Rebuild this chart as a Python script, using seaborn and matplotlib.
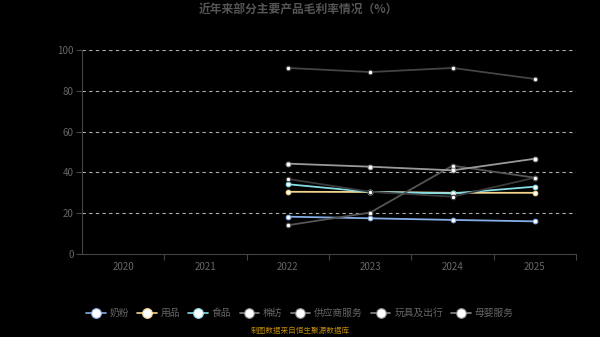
import matplotlib
matplotlib.use("Agg")
import matplotlib.pyplot as plt
import seaborn as sns
import pandas as pd
from matplotlib.lines import Line2D

years_axis = [2020, 2021, 2022, 2023, 2024, 2025]
years = [2022, 2023, 2024, 2025]
series_names = ["奶粉", "用品", "食品", "棉纺", "供应商服务", "玩具及出行", "母婴服务"]
naifen = [18.3, 17.5, 16.7, 16.0]
yongpin = [30.5, 30.4, 30.0, 30.0]
shipin = [34.2, 30.4, 29.7, 33.0]
mianfang = [91.2, 89.2, 91.2, 85.8]
gongying = [36.8, 30.5, 28.1, 37.4]
wanju = [14.1, 20.3, 43.3, 37.4]
muying = [44.3, 42.8, 41.0, 46.7]
values = [naifen, yongpin, shipin, mianfang, gongying, wanju, muying]
colors = ["#86aee6", "#f3d48c", "#86dde6", "#444444", "#3a3a3a", "#555555", "#9a9a9a"]
legend_line_colors = ["#86aee6", "#f3d48c", "#86dde6", "#888888", "#888888", "#888888", "#888888"]

sns.set_theme(style="dark")
plt.rcParams['font.family'] = ['Noto Sans CJK SC', 'DejaVu Sans']

fig = plt.figure(figsize=(6, 3.37), dpi=100, facecolor="black")
ax = fig.add_axes([0.1367, 0.2463, 0.8233, 0.6053])
ax.set_facecolor("black")

for name, vals, c in zip(series_names, values, colors):
    df = pd.DataFrame({"year": years, "value": vals})
    sns.lineplot(data=df, x="year", y="value", ax=ax, color=c, linewidth=1.3,
                 marker="o", markersize=3.3, markerfacecolor="white",
                 markeredgecolor=c, markeredgewidth=0.8, legend=False, zorder=3)

ax.set_xlim(2019.5, 2025.5)
ax.set_ylim(0, 100)
ax.set_xticks(years_axis)
ax.set_xticklabels([str(y) for y in years_axis])
ax.set_xticks([y + 0.5 for y in years_axis], minor=True)
ax.set_yticks([0, 20, 40, 60, 80, 100])
ax.set_xlabel("")
ax.set_ylabel("")
ax.grid(False)
for yv in [20, 40, 60, 80, 100]:
    ax.axhline(yv, color="#b0b0b0", linestyle=(0, (3, 3)), linewidth=0.8, zorder=1)

for s in ["top", "right"]:
    ax.spines[s].set_visible(False)
for s in ["left", "bottom"]:
    ax.spines[s].set_visible(True)
    ax.spines[s].set_color("#444444")
    ax.spines[s].set_linewidth(0.8)

ax.tick_params(axis="x", which="major", length=0, colors="#666666", labelsize=7, pad=6)
ax.tick_params(axis="x", which="minor", length=4, color="#444444", width=0.8, bottom=True)
ax.tick_params(axis="y", length=4, color="#444444", width=0.8, colors="#666666", labelsize=7, pad=2, left=True)

fig.text(0.497, 1 - 10 / 337, "近年来部分主要产品毛利率情况（%）", ha="center", va="center",
         color="#555555", fontsize=8.5, fontweight="bold")

handles = [Line2D([0], [0], color=lc, linewidth=1.2, marker="o", markersize=7,
                  markerfacecolor="white", markeredgecolor=lc, markeredgewidth=0.8)
           for lc in legend_line_colors]
leg = fig.legend(handles, series_names, loc="center", bbox_to_anchor=(0.5, 0.5),
                 ncol=7, frameon=False, fontsize=7, labelcolor="#666666",
                 handlelength=2.0, handletextpad=0.4, columnspacing=0.85)
leg.set_bbox_to_anchor((0.5, 1 - 313 / 337), transform=fig.transFigure)

fig.text(0.5, 1 - 331 / 337, "制图数据来自恒生聚源数据库", ha="center", va="center",
         color="#b8860b", fontsize=5.5)

fig.savefig("out.png", dpi=100, facecolor="black")
